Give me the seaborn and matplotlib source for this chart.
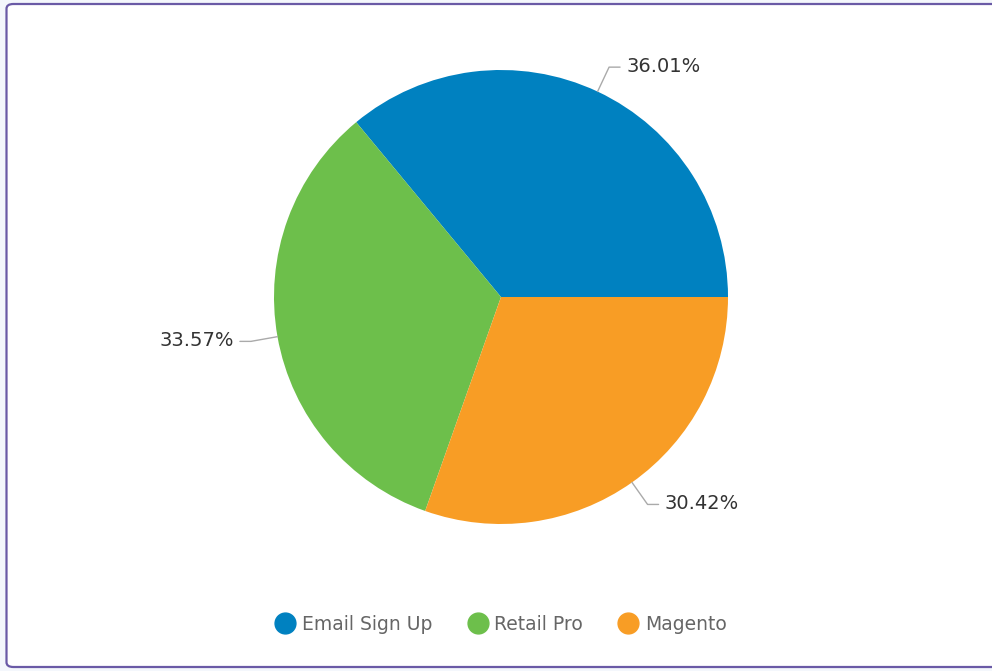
import numpy as np
import matplotlib
matplotlib.use("Agg")
import matplotlib.pyplot as plt
from matplotlib.patches import FancyBboxPatch
from matplotlib.lines import Line2D
import seaborn as sns

categories = ["Email Sign Up", "Retail Pro", "Magento"]
shares = [36.01, 33.57, 30.42]
colours = ["#0081C0", "#6DBF4B", "#F89D25"]

sns.set_style("white")
plt.rcParams["font.family"] = ["DejaVu Sans"]

W, H = 992, 671
fig = plt.figure(figsize=(W / 100, H / 100), dpi=100)
fig.patch.set_facecolor("#F4F7FC")

# card background with purple border
card = FancyBboxPatch((6.5 / W, 4 / H), (W + 20) / W, (H - 8) / H,
                      boxstyle="round,pad=0,rounding_size=0.007",
                      transform=fig.transFigure, facecolor="white",
                      edgecolor="#6A5AA6", linewidth=1.6, zorder=-5)
fig.patches.append(card)

ax = fig.add_axes([0, 0, 1, 1], zorder=2)
ax.set_facecolor("none")
cx, cy, r = 501, H - 297, 227
wedges, _ = ax.pie(shares, colors=colours, startangle=0, counterclock=True,
                   center=(cx, cy), radius=r,
                   wedgeprops={"linewidth": 0})
ax.set_xlim(0, W)
ax.set_ylim(0, H)
ax.set_aspect("equal")
ax.axis("off")

# percentage labels with leader lines
for w, val in zip(wedges, shares):
    mid = np.deg2rad((w.theta1 + w.theta2) / 2)
    ux, uy = np.cos(mid), np.sin(mid)
    x0, y0 = cx + r * ux, cy + r * uy
    x1, y1 = cx + (r + 27) * ux, cy + (r + 27) * uy
    side = 1 if ux >= 0 else -1
    x2 = x1 + side * 11
    ax.plot([x0, x1, x2], [y0, y1, y1], color="#AAAAAA", lw=1)
    ax.text(x2 + side * 6, y1 + 1, f"{val:.2f}%", ha="left" if side > 0 else "right",
            va="center", fontsize=14, color="#333333")

handles = [Line2D([], [], marker="o", ls="", markersize=15,
                  markerfacecolor=c, markeredgecolor=c) for c in colours]
fig.legend(handles, categories, loc="center", bbox_to_anchor=(500 / W, 1 - 624 / H),
           ncol=3, frameon=False, fontsize=13.5, labelcolor="#666666",
           handletextpad=0.25, columnspacing=1.75, handlelength=1.3)

fig.savefig("out.png", dpi=100)
